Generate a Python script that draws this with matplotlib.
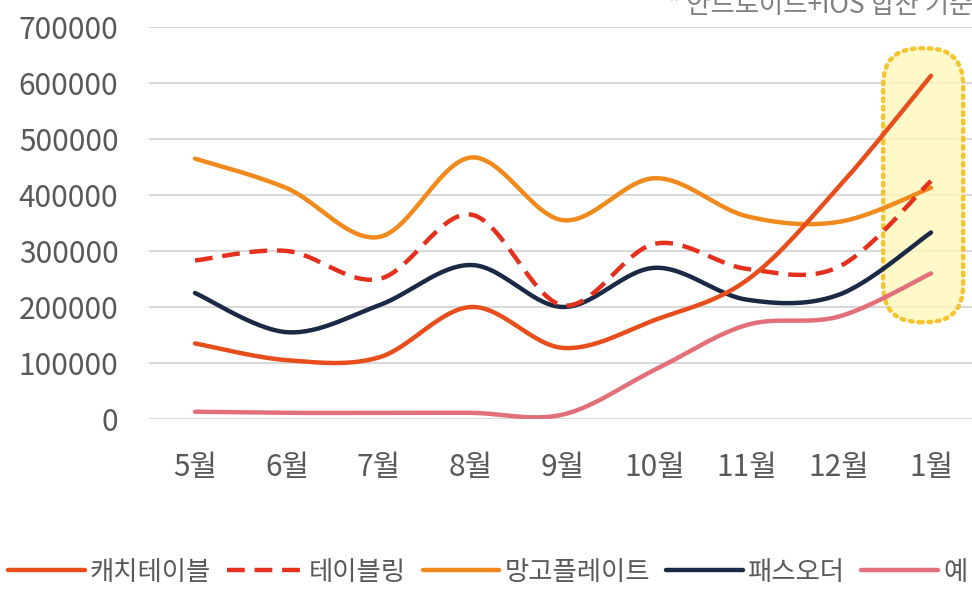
import numpy as np
import matplotlib
matplotlib.use('Agg')
import matplotlib.pyplot as plt
from matplotlib.patches import FancyBboxPatch

plt.rcParams['font.family'] = ['Noto Sans CJK KR', 'DejaVu Sans']

months = ['5월', '6월', '7월', '8월', '9월', '10월', '11월', '12월', '1월']
catchtable = [135000, 105000, 110000, 200000, 127000, 177000, 248000, 415000, 613000]
tableing = [283000, 300000, 250000, 365000, 203000, 313000, 268000, 272000, 425000]
mangoplate = [465000, 412000, 325000, 467000, 355000, 430000, 362000, 352000, 413000]
passorder = [225000, 155000, 203000, 275000, 200000, 270000, 213000, 222000, 333000]
ye = [13000, 11000, 11000, 11000, 8000, 88000, 168000, 183000, 260000]
yticks = [0, 100000, 200000, 300000, 400000, 500000, 600000, 700000]


def smooth(xs, ys, n=30):
    # excel-style smoothed line (catmull-rom through the points)
    xs = np.asarray(xs, float)
    ys = np.asarray(ys, float)
    px = np.concatenate([[xs[0]], xs, [xs[-1]]])
    py = np.concatenate([[ys[0]], ys, [ys[-1]]])
    ox, oy = [], []
    for i in range(1, len(px) - 2):
        x0, x1, x2, x3 = px[i - 1], px[i], px[i + 1], px[i + 2]
        y0, y1, y2, y3 = py[i - 1], py[i], py[i + 1], py[i + 2]
        c1x, c1y = x1 + (x2 - x0) / 6, y1 + (y2 - y0) / 6
        c2x, c2y = x2 - (x3 - x1) / 6, y2 - (y3 - y1) / 6
        t = np.linspace(0, 1, n)
        b0, b1, b2, b3 = (1 - t) ** 3, 3 * t * (1 - t) ** 2, 3 * t ** 2 * (1 - t), t ** 3
        ox.extend(b0 * x1 + b1 * c1x + b2 * c2x + b3 * x2)
        oy.extend(b0 * y1 + b1 * c1y + b2 * c2y + b3 * y2)
    return np.array(ox), np.array(oy)


fig = plt.figure(figsize=(9.72, 5.91), dpi=100)
ax = fig.add_axes([149 / 972, 1 - 419 / 591, 828 / 972, 392 / 591])
x = np.arange(len(months))

# highlight around the last month
box = dict(boxstyle='round,pad=0,rounding_size=0.4', mutation_aspect=165000)
hl = FancyBboxPatch((7.48, 173000), 0.87, 489000, facecolor='#FFF6B8', alpha=0.75,
                    edgecolor='none', zorder=1, **box)
ax.add_patch(hl)
hl2 = FancyBboxPatch((7.48, 173000), 0.87, 489000, facecolor='none', edgecolor='#F2C531',
                     linewidth=3.2, linestyle=(0, (0.6, 1.3)), capstyle='round',
                     zorder=1.5, **box)
ax.add_patch(hl2)

series = [
    ('캐치테이블', catchtable, '#E84E1B', '-'),
    ('테이블링', tableing, '#E5301E', (0, (4, 2.2))),
    ('망고플레이트', mangoplate, '#F18A1C', '-'),
    ('패스오더', passorder, '#1B2A44', '-'),
    ('예', ye, '#E2707A', '-'),
]
lines = {}
for k in [4, 3, 2, 1, 0]:
    name, vals, col, ls = series[k]
    sx, sy = smooth(x, vals)
    ln, = ax.plot(sx, sy, color=col, linestyle=ls, linewidth=3.2, label=name,
                  solid_capstyle='round', zorder=3)
    lines[k] = ln

ax.set_xlim(-0.5, 8.5)
ax.set_ylim(0, 700000)
ax.set_yticks(yticks)
ax.set_yticklabels([str(v) for v in yticks])
ax.set_xticks(x)
ax.set_xticklabels(months)
ax.tick_params(axis='y', length=0, pad=22, labelsize=21.5, labelcolor='#595959')
ax.tick_params(axis='x', length=0, pad=24, labelsize=21.5, labelcolor='#595959')
ax.grid(axis='y', color='#D9D9D9', linewidth=1.5)
ax.set_axisbelow(True)
for s in ax.spines.values():
    s.set_visible(False)

fig.text(668 / 972, 1 - 13 / 591, '* 안드로이드+iOS 합산 기준', fontsize=19, color='#808080',
         ha='left', va='baseline')

leg = fig.legend([lines[k] for k in range(5)], [s[0] for s in series],
                 loc='center left', bbox_to_anchor=(8 / 972, 1 - 572 / 591), ncol=5,
                 frameon=False, fontsize=19, handlelength=2.9, handletextpad=0.2,
                 columnspacing=0.62, borderaxespad=0, borderpad=0)
for t in leg.get_texts():
    t.set_color('#595959')

fig.savefig('out.png', dpi=100)
